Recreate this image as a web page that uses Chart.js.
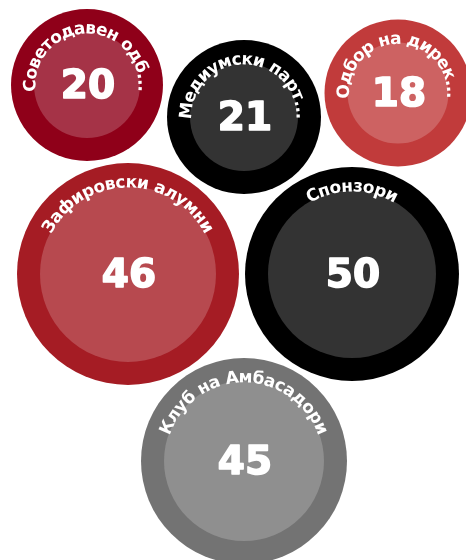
<!DOCTYPE html>
<html>
<head>
<meta charset="utf-8">
<script src="https://cdn.jsdelivr.net/npm/chart.js@4"></script>
<style>
  html, body { margin: 0; padding: 0; background: #fff; }
  #wrap { width: 466px; height: 560px; position: relative; }
</style>
</head>
<body>
<div id="wrap"><canvas id="bubbles"></canvas></div>
<script>
// groups and counts
let groups = ['Советодавен одб...', 'Медиумски парт...', 'Одбор на дирек...', 'Зафировски алумни', 'Спонзори', 'Клуб на Амбасадори'];
let counts = [20, 21, 18, 46, 50, 45];

// packed layout (data units on hidden 0..466 / 0..560 axes) and bubble radius
let posX = [87, 244, 398, 128, 352, 244];
let posY = [85, 117, 93, 274, 274, 461];
let bubbleSize = [76, 77, 73.5, 111, 107, 103];

let colors = ['#8f0019', '#000000', '#c13b3b', '#a51c24', '#000000', '#737373'];

const RING = 23;
const FONT = '"DejaVu Sans", sans-serif';

function arcText(ctx, text, cx, cy, radius, size) {
    ctx.font = 'bold ' + size + 'px ' + FONT;
    let widths = [];
    let total = 0;
    for (let ch of text) {
        let w = ctx.measureText(ch).width;
        widths.push(w);
        total += w;
    }
    let start = -Math.PI / 2 - total / radius / 2;
    let offset = 0;
    let i = 0;
    for (let ch of text) {
        let a = start + (offset + widths[i] / 2) / radius;
        ctx.save();
        ctx.translate(cx + radius * Math.cos(a), cy + radius * Math.sin(a));
        ctx.rotate(a + Math.PI / 2);
        ctx.textAlign = 'center';
        ctx.textBaseline = 'middle';
        ctx.fillText(ch, 0, 0);
        ctx.restore();
        offset += widths[i];
        i++;
    }
}

const ringPlugin = {
    id: 'ringPlugin',
    afterDatasetsDraw(chart) {
        let ctx = chart.ctx;
        let meta = chart.getDatasetMeta(0);
        meta.data.forEach(function (el, i) {
            let r = bubbleSize[i];
            ctx.save();
            ctx.fillStyle = 'rgba(255,255,255,0.2)';
            ctx.beginPath();
            ctx.arc(el.x, el.y, r - RING, 0, Math.PI * 2);
            ctx.fill();

            // big count in the middle, a bit heavier than plain bold
            ctx.fillStyle = '#ffffff';
            ctx.strokeStyle = '#ffffff';
            ctx.lineWidth = 1.6;
            ctx.lineJoin = 'round';
            ctx.font = 'bold 39px ' + FONT;
            ctx.textAlign = 'center';
            ctx.textBaseline = 'middle';
            ctx.fillText(String(counts[i]), el.x + 1, el.y + 3);
            ctx.strokeText(String(counts[i]), el.x + 1, el.y + 3);

            arcText(ctx, groups[i], el.x, el.y, r - RING + 3, 17);
            ctx.restore();
        });
    }
};

let points = counts.map(function (v, i) {
    return { x: posX[i], y: posY[i], r: bubbleSize[i], v: v };
});

new Chart(document.getElementById('bubbles'), {
    type: 'bubble',
    data: {
        labels: groups,
        datasets: [{
            data: points,
            backgroundColor: colors,
            hoverBackgroundColor: colors,
            borderWidth: 0,
            hoverBorderWidth: 0,
            hoverRadius: 0,
            clip: false
        }]
    },
    options: {
        responsive: true,
        maintainAspectRatio: false,
        animation: false,
        events: [],
        layout: { padding: 0, autoPadding: false },
        plugins: {
            legend: { display: false },
            tooltip: { enabled: false }
        },
        scales: {
            x: { type: 'linear', min: 0, max: 466, display: false },
            y: { type: 'linear', min: 0, max: 560, reverse: true, display: false }
        }
    },
    plugins: [ringPlugin]
});
</script>
</body>
</html>
